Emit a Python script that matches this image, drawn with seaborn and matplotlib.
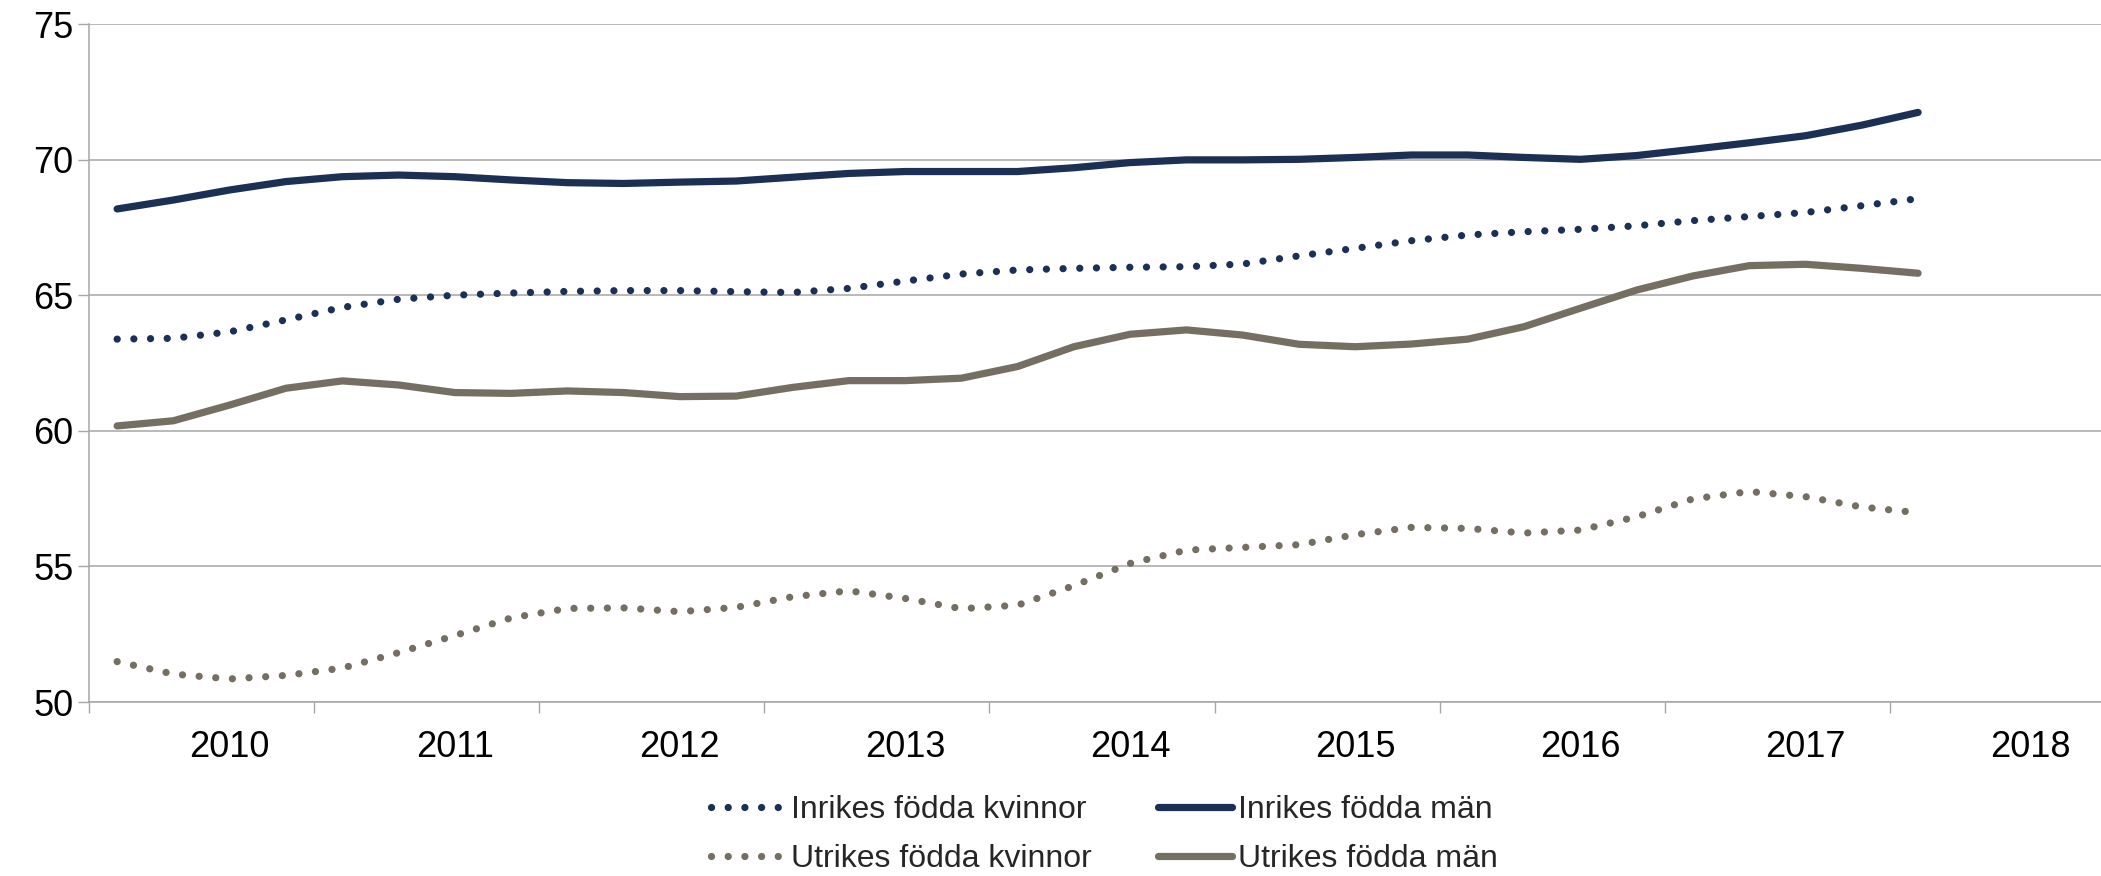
import numpy as np
import pandas as pd
import matplotlib
matplotlib.use("Agg")
import matplotlib.pyplot as plt
from matplotlib import font_manager
import seaborn as sns

# ---- data (quarterly, 2010 Q1 .. 2018 Q1) ----
years = [2010, 2011, 2012, 2013, 2014, 2015, 2016, 2017, 2018]
quarters = [f"{y} K{q}" for y in years for q in (1, 2, 3, 4)][:33]

inrikes_kvinnor = [63.38, 63.41, 63.65, 64.09, 64.55, 64.85, 65.00, 65.08, 65.14, 65.17,
                   65.17, 65.13, 65.10, 65.25, 65.52, 65.78, 65.93, 65.99, 66.03, 66.05,
                   66.15, 66.45, 66.73, 67.01, 67.22, 67.34, 67.43, 67.56, 67.75, 67.90,
                   68.05, 68.30, 68.56]
inrikes_man = [68.18, 68.51, 68.88, 69.19, 69.37, 69.43, 69.37, 69.25, 69.15, 69.12,
               69.17, 69.21, 69.35, 69.49, 69.56, 69.56, 69.56, 69.70, 69.89, 69.99,
               69.99, 70.01, 70.08, 70.17, 70.17, 70.08, 70.01, 70.15, 70.38, 70.62,
               70.88, 71.27, 71.74]
utrikes_kvinnor = [51.49, 51.03, 50.85, 50.98, 51.25, 51.82, 52.45, 53.10, 53.45, 53.47,
                   53.33, 53.49, 53.88, 54.10, 53.82, 53.44, 53.57, 54.29, 55.11, 55.60,
                   55.70, 55.80, 56.17, 56.44, 56.40, 56.23, 56.34, 56.83, 57.49, 57.76,
                   57.57, 57.19, 56.98]
utrikes_man = [60.18, 60.37, 60.95, 61.57, 61.84, 61.69, 61.41, 61.38, 61.47, 61.41,
               61.26, 61.28, 61.60, 61.85, 61.85, 61.94, 62.37, 63.10, 63.56, 63.72,
               63.53, 63.19, 63.10, 63.20, 63.38, 63.84, 64.52, 65.19, 65.71, 66.09,
               66.14, 65.99, 65.81]
series_names = ["Inrikes födda kvinnor", "Utrikes födda kvinnor",
                "Inrikes födda män", "Utrikes födda män"]
y_ticks = [50, 55, 60, 65, 70, 75]

# ---- style ----
sns.set_theme(style="white")
avail = {f.name for f in font_manager.fontManager.ttflist}
fam = [f for f in ["Liberation Sans", "DejaVu Sans"] if f in avail]
plt.rcParams["font.family"] = fam

NAVY = "#1B3054"
GRAY = "#756F63"
GRID = "#A6A6A6"
FS = 26
LFS = 23

fig = plt.figure(figsize=(21.01, 8.76), dpi=100)
ax = fig.add_axes([89 / 2101, 1 - 702 / 876, 1 - 89 / 2101, (702 - 24) / 876])

x = np.arange(len(quarters))
df = pd.DataFrame({"x": x,
                   series_names[0]: inrikes_kvinnor,
                   series_names[1]: utrikes_kvinnor,
                   series_names[2]: inrikes_man,
                   series_names[3]: utrikes_man})

dot = (0, (0.01, 2.3))
styles = {
    series_names[0]: dict(color=NAVY, linestyle=dot),
    series_names[1]: dict(color=GRAY, linestyle=dot),
    series_names[2]: dict(color=NAVY, linestyle="-"),
    series_names[3]: dict(color=GRAY, linestyle="-"),
}
for name in series_names:
    sns.lineplot(data=df, x="x", y=name, ax=ax, label=name, linewidth=5.2,
                 dash_capstyle="round", solid_capstyle="round",
                 solid_joinstyle="round", **styles[name])

ax.set_xlim(-0.5, 35.25)
ax.set_ylim(50, 75)
ax.set_xlabel("")
ax.set_ylabel("")

# y axis
ax.set_yticks(y_ticks)
ax.set_yticklabels([str(v) for v in y_ticks])
ax.yaxis.grid(True, color=GRID, linewidth=1.1)
ax.tick_params(axis="y", which="major", length=8, width=1.0, color=GRID,
               labelsize=FS, pad=3, left=True)

# x axis: tick marks between years, labels via minor ticks
ax.set_xticks([-0.5 + 4 * k for k in range(9)])
ax.set_xticklabels([])
ax.set_xticks([2 + 4 * k for k in range(len(years))], minor=True)
ax.set_xticklabels([str(y) for y in years], minor=True)
ax.tick_params(axis="x", which="major", length=8, width=1.0, color=GRID,
               direction="out", bottom=True)
ax.tick_params(axis="x", which="minor", length=0, labelsize=FS, pad=20)
ax.xaxis.grid(False)

for s in ["top", "right"]:
    ax.spines[s].set_visible(False)
for s in ["left", "bottom"]:
    ax.spines[s].set_color(GRID)
    ax.spines[s].set_linewidth(1.1)

for t in ax.get_xticklabels(minor=True) + ax.get_yticklabels():
    t.set_color("black")

ax.get_legend().remove()
handles, labels = ax.get_legend_handles_labels()
fig.legend(handles, labels, loc="center left", bbox_to_anchor=(711 / 2101, 0.047),
           ncol=2, frameon=False, fontsize=LFS, handlelength=2.3,
           handletextpad=0.19, columnspacing=2.1, labelspacing=0.6,
           borderaxespad=0, borderpad=0)

fig.savefig("out.png", dpi=100)
